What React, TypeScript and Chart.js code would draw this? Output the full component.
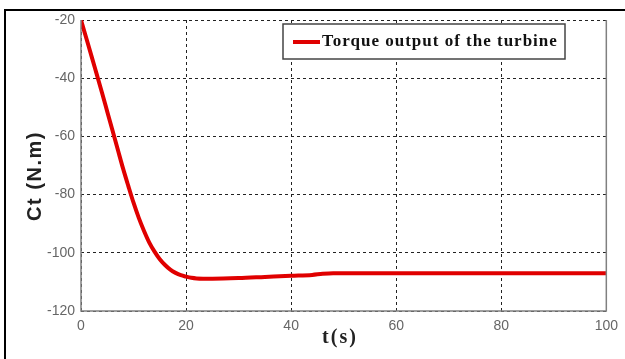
import React, { useEffect, useRef } from "react";
import { Chart, registerables } from "chart.js";

Chart.register(...registerables);

// Time samples (s) and turbine torque (N.m)
const timeS = [0, 1, 2, 3, 4, 5, 6, 7, 8, 9, 10, 11, 12, 13, 14, 15, 16, 17, 18, 19, 20, 21, 22, 25, 30, 35, 40, 44, 46, 48, 50, 60, 70, 80, 90, 100];
const torque = [-20, -26.2, -32.4, -38.7, -45, -51.5, -58, -64.5, -71, -77, -82.8, -88, -92.5, -96.5, -99.6, -102.2, -104.2, -105.8, -106.9, -107.7, -108.2, -108.6, -108.8, -108.9, -108.7, -108.3, -107.9, -107.6, -107.2, -107.0, -107, -107, -107, -107, -107, -107];

const xTicks = [0, 20, 40, 60, 80, 100];
const yTicks = [-120, -100, -80, -60, -40, -20];

const seriesLabel = "Torque output of the turbine";
const xTitle = "t(s)";
const yTitle = "Ct (N.m)";

const W = 625;
const H = 359;

const decorations = {
  id: "decorations",
  beforeDraw(chart: any) {
    const { ctx } = chart;
    ctx.save();
    ctx.fillStyle = "#ffffff";
    ctx.fillRect(0, 0, W, H);
    ctx.restore();
  },
  afterDraw(chart: any) {
    const { ctx, chartArea: a } = chart;
    ctx.save();
    // outer frame
    ctx.strokeStyle = "#000";
    ctx.lineWidth = 2;
    ctx.beginPath();
    ctx.moveTo(5, H);
    ctx.lineTo(5, 10);
    ctx.lineTo(W, 10);
    ctx.stroke();
    // plot box: solid left, bottom and right edges
    ctx.strokeStyle = "#808080";
    ctx.lineWidth = 1.5;
    ctx.beginPath();
    ctx.moveTo(a.left, a.top);
    ctx.lineTo(a.left, a.bottom);
    ctx.lineTo(a.right, a.bottom);
    ctx.lineTo(a.right, a.top);
    ctx.stroke();
    // axis titles
    ctx.fillStyle = "#222";
    ctx.font = "bold 20px 'Liberation Sans', Arial, sans-serif";
    (ctx as any).letterSpacing = "1.5px";
    ctx.textAlign = "center";
    ctx.textBaseline = "middle";
    ctx.translate(35, 176);
    ctx.rotate(-Math.PI / 2);
    ctx.fillText(yTitle, 0, 0);
    ctx.setTransform(1, 0, 0, 1, 0, 0);
    ctx.font = "bold 20px 'Liberation Serif', 'Times New Roman', serif";
    (ctx as any).letterSpacing = "2px";
    ctx.fillText(xTitle, 340, 338);
    // legend
    const lx = 283, ly = 24, lw = 282, lh = 35;
    ctx.fillStyle = "#fff";
    ctx.fillRect(lx, ly, lw, lh);
    ctx.strokeStyle = "#444";
    ctx.lineWidth = 1.5;
    ctx.strokeRect(lx, ly, lw, lh);
    ctx.strokeStyle = "#e00000";
    ctx.lineWidth = 4;
    ctx.beginPath();
    ctx.moveTo(293, 42);
    ctx.lineTo(320, 42);
    ctx.stroke();
    ctx.fillStyle = "#111";
    ctx.font = "bold 17px 'Liberation Serif', 'Times New Roman', serif";
    (ctx as any).letterSpacing = "1px";
    ctx.textAlign = "left";
    ctx.fillText(seriesLabel, 322, 42);
    ctx.restore();
  },
};

export default function App() {
  const ref = useRef<HTMLCanvasElement | null>(null);
  useEffect(() => {
    if (!ref.current) return;
    const chart = new Chart(ref.current, {
      type: "line",
      data: {
        datasets: [
          {
            label: seriesLabel,
            data: timeS.map((t, i) => ({ x: t, y: torque[i] })),
            borderColor: "#e00000",
            borderWidth: 4,
            pointRadius: 0,
            cubicInterpolationMode: "monotone",
            fill: false,
          },
        ],
      },
      options: {
        responsive: false,
        animation: false,
        layout: { padding: { left: 0, top: 20, right: 15, bottom: 0 } },
        plugins: { legend: { display: false }, tooltip: { enabled: false } },
        scales: {
          x: {
            type: "linear",
            min: 0,
            max: 100,
            afterFit: (s: any) => {
              s.height = 48;
            },
            afterBuildTicks: (s: any) => {
              s.ticks = xTicks.map((v) => ({ value: v }));
            },
            ticks: {
              color: "#666",
              font: { family: "'Liberation Sans', Arial, sans-serif", size: 14 },
              padding: 7,
            },
            grid: {
              color: "#222",
              lineWidth: 1,
              drawTicks: false,
            },
            border: { display: false, dash: [3, 3] },
          },
          y: {
            type: "linear",
            min: -120,
            max: -20,
            afterFit: (s: any) => {
              s.width = 81;
            },
            afterBuildTicks: (s: any) => {
              s.ticks = yTicks.map((v) => ({ value: v }));
            },
            ticks: {
              color: "#666",
              font: { family: "'Liberation Sans', Arial, sans-serif", size: 14 },
              padding: 6,
            },
            grid: {
              color: "#222",
              lineWidth: 1,
              drawTicks: false,
            },
            border: { display: false, dash: [3, 3] },
          },
        },
      },
      plugins: [decorations],
    } as any);
    return () => chart.destroy();
  }, []);
  return (
    <div style={{ position: "absolute", left: 0, top: 0, width: W, height: H }}>
      <canvas ref={ref} width={W} height={H} style={{ width: W, height: H }} />
    </div>
  );
}
